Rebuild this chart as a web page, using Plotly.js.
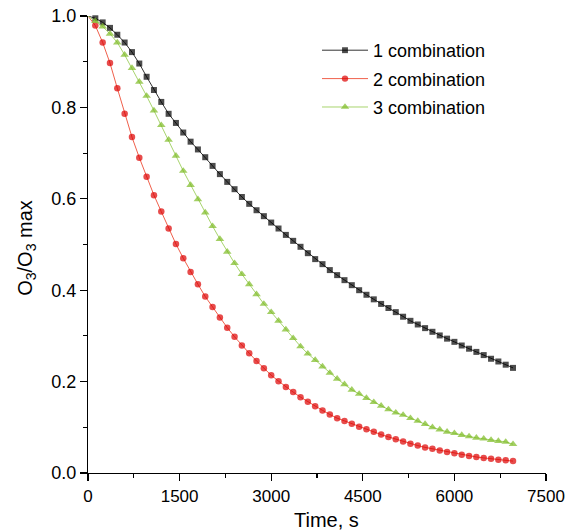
<!DOCTYPE html>
<html>
<head>
<meta charset="utf-8">
<script src="https://cdn.plot.ly/plotly-3.0.1.min.js"></script>
<style>html,body{margin:0;padding:0;background:#fff;}#chart{width:573px;height:531px;}</style>
</head>
<body>
<div id="chart"></div>
<script>
var timeS = [0,120,240,360,480,600,720,840,960,1080,1200,1320,1440,1560,1680,1800,1920,2040,2160,2280,2400,2520,2640,2760,2880,3000,3120,3240,3360,3480,3600,3720,3840,3960,4080,4200,4320,4440,4560,4680,4800,4920,5040,5160,5280,5400,5520,5640,5760,5880,6000,6120,6240,6360,6480,6600,6720,6840,6960];

var combo1 = [1.000,0.995,0.986,0.974,0.959,0.942,0.921,0.896,0.867,0.838,0.812,0.786,0.766,0.745,0.725,0.708,0.691,0.672,0.654,0.637,0.621,0.604,0.589,0.575,0.562,0.548,0.535,0.521,0.508,0.495,0.481,0.468,0.457,0.444,0.433,0.422,0.411,0.400,0.390,0.380,0.370,0.361,0.352,0.342,0.333,0.325,0.317,0.309,0.301,0.294,0.287,0.279,0.272,0.265,0.258,0.250,0.244,0.237,0.230];

var combo2 = [1.000,0.979,0.942,0.897,0.842,0.786,0.735,0.690,0.648,0.608,0.572,0.535,0.501,0.470,0.440,0.413,0.386,0.363,0.340,0.318,0.298,0.279,0.262,0.245,0.229,0.214,0.201,0.188,0.177,0.166,0.156,0.146,0.137,0.128,0.120,0.114,0.108,0.101,0.096,0.090,0.084,0.079,0.074,0.069,0.064,0.060,0.056,0.053,0.049,0.046,0.043,0.040,0.037,0.035,0.033,0.031,0.029,0.028,0.026];

var combo3 = [1.000,0.989,0.977,0.961,0.942,0.915,0.886,0.856,0.825,0.793,0.761,0.729,0.694,0.661,0.630,0.599,0.570,0.540,0.512,0.484,0.459,0.435,0.413,0.391,0.370,0.352,0.333,0.314,0.295,0.277,0.261,0.247,0.233,0.219,0.206,0.194,0.182,0.173,0.164,0.155,0.147,0.139,0.132,0.127,0.120,0.114,0.107,0.100,0.095,0.090,0.087,0.083,0.080,0.077,0.075,0.072,0.070,0.068,0.063];

var seriesNames = ['1 combination','2 combination','3 combination'];
var xTickVals = [0,1500,3000,4500,6000,7500];
var yTickVals = [0.0,0.2,0.4,0.6,0.8,1.0];

var FONT = '"Liberation Sans", Arial, Helvetica, sans-serif';

function sizes(s){ return timeS.map(function(t,i){ return i===0 ? 0 : s; }); }

var styles = [
  {line:'#333333', marker:'#000000', symbol:'square', size:6},
  {line:'#f0604c', marker:'#dd0000', symbol:'circle', size:6.5},
  {line:'#a8d46e', marker:'#7cba22', symbol:'triangle-up', size:7.5}
];
var ys = [combo1, combo2, combo3];

var traces = ys.map(function(y, i){
  return {
    x: timeS, y: y, name: seriesNames[i], type: 'scatter', mode: 'lines+markers',
    line: {color: styles[i].line, width: 1},
    marker: {color: styles[i].marker, symbol: styles[i].symbol, size: sizes(styles[i].size), line:{width:0}},
    legendgroup: 'g'+i,
    cliponaxis: false
  };
});

var layout = {
  width: 573, height: 531,
  margin: {l: 88, r: 27, t: 16, b: 58, pad: 0},
  paper_bgcolor: '#fff', plot_bgcolor: '#fff',
  font: {family: FONT, color: '#000', size: 17},
  showlegend: true,
  legend: {
    x: 0.50, y: 0.965, xanchor: 'left', yanchor: 'top',
    font: {family: FONT, size: 18, color: '#000'},
    bgcolor: 'rgba(0,0,0,0)', borderwidth: 0,
    tracegroupgap: 2, itemwidth: 46
  },
  xaxis: {
    range: [0, 7500], tickvals: xTickVals, ticktext: xTickVals.map(String),
    ticks: 'outside', ticklen: 7, tickwidth: 1.2, tickcolor: '#000',
    showline: true, linecolor: '#000', linewidth: 1.2,
    showgrid: false, zeroline: false,
    minor: {dtick: 750, tick0: 0, ticks: 'outside', ticklen: 4, tickwidth: 1.2, tickcolor: '#000', showgrid: false},
    tickfont: {family: FONT, size: 17, color: '#000'}
  },
  yaxis: {
    range: [0, 1.0], tickvals: yTickVals, ticktext: yTickVals.map(function(v){return v.toFixed(1);}),
    ticks: 'outside', ticklen: 7, tickwidth: 1.2, tickcolor: '#000',
    showline: true, linecolor: '#000', linewidth: 1.2,
    showgrid: false, zeroline: false,
    minor: {dtick: 0.1, tick0: 0, ticks: 'outside', ticklen: 4, tickwidth: 1.2, tickcolor: '#000', showgrid: false},
    tickfont: {family: FONT, size: 18, color: '#000'}
  },
  annotations: [
    {text: 'Time, s', xref: 'paper', yref: 'paper', x: 0.521, y: 0, yshift: -47,
     xanchor: 'center', yanchor: 'middle', showarrow: false, font: {family: FONT, size: 20, color: '#000'}},
    {text: 'O<sub>3</sub>/O<sub>3</sub> max', xref: 'paper', yref: 'paper', x: -0.1346, y: 0.5, yshift: -3,
     xanchor: 'center', yanchor: 'middle', textangle: -90, showarrow: false, font: {family: FONT, size: 20, color: '#000'}}
  ]
};

Plotly.newPlot('chart', traces, layout, {displayModeBar: false, staticPlot: true});
</script>
</body>
</html>
